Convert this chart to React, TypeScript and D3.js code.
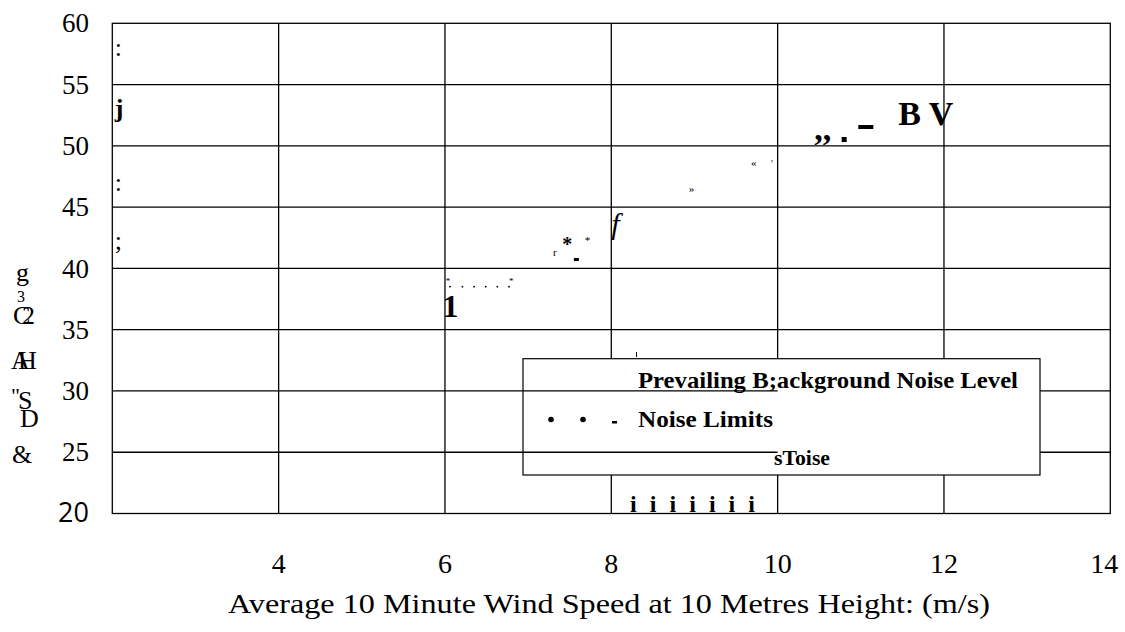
import React from "react";
import * as d3 from "d3";

const W = 1125;
const H = 632;

// axis definitions
const xDomain = [2, 14];
const yDomain = [20, 60];
const xTickValues = [4, 6, 8, 10, 12, 14];
const xGridValues = [4, 6, 8, 10, 12];
const yTickValues = [60, 55, 50, 45, 40, 35, 30, 25];
const yGridValues = [55, 50, 45, 40, 35, 30, 25];
const yBottomTick = 20;

const xTitle = "Average  10  Minute  Wind  Speed  at  10  Metres  Height:  (m/s)";

// scanned glyph fragments left on the plot (x in m/s, y in dB)
const glyphText = [":", "j", ":", ";", "1", "*", "*", "r", "*", "*", "f", "»", "«", "'", ",,", "B V"];
const glyphX = [2.03, 2.03, 2.03, 2.03, 5.97, 6.01, 6.77, 7.3, 7.41, 7.68, 8.0, 8.93, 9.68, 9.92, 10.44, 11.45];
const glyphY = [57.33, 52.35, 46.32, 41.58, 36.03, 38.73, 38.73, 41.01, 41.42, 41.99, 42.81, 46.23, 48.36, 48.28, 50.48, 51.7];

// dots of the noise-limit line
const dotX = [6.06, 6.21, 6.35, 6.49, 6.63, 6.77];
const dotY = [38.51, 38.51, 38.51, 38.51, 38.51, 38.51];
// small blocks of the dashed line
const blockX = [7.55, 10.77, 10.97];
const blockY = [40.85, 50.72, 51.7];

const legendLines = ["Prevailing B;ackground Noise Level", "Noise Limits", "sToise"];
const bottomMarks = "i i i i i i i";

// left-axis title fragments
const yTitleBits = ["g", "3", "C", "2", "A", "H", '"', "S", "D", "&"];

export default function App() {
  const left = 112.3;
  const right = 1110.3;
  const top = 23.3;
  const bottom = 513.5;
  const x = d3.scaleLinear().domain(xDomain).range([left, right]);
  const y = d3.scaleLinear().domain(yDomain).range([bottom, top]);

  const serif = "'Liberation Serif', 'Times New Roman', serif";
  const stroke = "#000";
  const sw = 1.3;

  // legend box layout
  const lg = { x: 523, y: 358.7, w: 517, h: 116.3 };

  // glyph style info (layout)
  const glyphStyle = [
    { fs: 26, fw: 400, it: false },
    { fs: 26, fw: 700, it: false },
    { fs: 26, fw: 400, it: false },
    { fs: 26, fw: 400, it: false },
    { fs: 32, fw: 700, it: false },
    { fs: 9, fw: 400, it: false },
    { fs: 9, fw: 400, it: false },
    { fs: 11, fw: 400, it: false },
    { fs: 20, fw: 700, it: false },
    { fs: 11, fw: 400, it: false },
    { fs: 30, fw: 400, it: true },
    { fs: 11, fw: 400, it: false },
    { fs: 11, fw: 400, it: false },
    { fs: 10, fw: 400, it: false },
    { fs: 34, fw: 700, it: false },
    { fs: 34, fw: 700, it: false },
  ];

  const yTitlePos = [
    { px: 16, py: 281, fs: 26 },
    { px: 17, py: 302, fs: 16 },
    { px: 13, py: 324, fs: 26 },
    { px: 22, py: 324, fs: 26 },
    { px: 11, py: 369, fs: 26 },
    { px: 18, py: 369, fs: 26 },
    { px: 11, py: 403, fs: 22 },
    { px: 18, py: 409, fs: 26 },
    { px: 20, py: 427, fs: 26 },
    { px: 12, py: 463, fs: 26 },
  ];

  const blockSize = [
    [5, 3],
    [5, 5],
    [15, 4],
  ];

  return (
    <svg
      width={W}
      height={H}
      style={{ position: "absolute", left: 0, top: 0, background: "#fff" }}
    >
      <rect x={0} y={0} width={W} height={H} fill="#fff" />
      {/* grid */}
      {xGridValues.map((v) => (
        <line key={"vx" + v} x1={x(v)} x2={x(v)} y1={top} y2={bottom} stroke={stroke} strokeWidth={sw} />
      ))}
      {yGridValues.map((v) => (
        <line key={"hy" + v} x1={left} x2={right} y1={y(v)} y2={y(v)} stroke={stroke} strokeWidth={sw} />
      ))}
      <rect x={left} y={top} width={right - left} height={bottom - top} fill="none" stroke={stroke} strokeWidth={sw} />

      {/* legend */}
      <rect x={lg.x} y={lg.y} width={lg.w} height={lg.h} fill="#fff" stroke={stroke} strokeWidth={1.2} />
      {yGridValues
        .filter((v) => y(v) > lg.y && y(v) < lg.y + lg.h)
        .map((v) => (
          <line key={"lgh" + v} x1={lg.x} x2={x(10)} y1={y(v)} y2={y(v)} stroke={stroke} strokeWidth={sw} />
        ))}
      <line x1={636.5} x2={636.5} y1={352} y2={357} stroke={stroke} strokeWidth={1} />
      <text x={638} y={388} fontFamily={serif} fontWeight={700} fontSize={23} textLength={380} lengthAdjust="spacingAndGlyphs">
        {legendLines[0]}
      </text>
      <circle cx={551} cy={419.5} r={2.8} fill={stroke} />
      <circle cx={583} cy={419.5} r={2.8} fill={stroke} />
      <rect x={612} y={421} width={5} height={2.5} fill={stroke} />
      <text x={638} y={427} fontFamily={serif} fontWeight={700} fontSize={23} textLength={135} lengthAdjust="spacingAndGlyphs">
        {legendLines[1]}
      </text>
      <text x={774} y={465} fontFamily={serif} fontWeight={700} fontSize={22} textLength={56} lengthAdjust="spacingAndGlyphs">
        {legendLines[2]}
      </text>

      {/* scattered glyphs */}
      {glyphText.map((t, i) => (
        <text
          key={"g" + i}
          x={x(glyphX[i])}
          y={y(glyphY[i])}
          fontFamily={serif}
          fontSize={glyphStyle[i].fs}
          fontWeight={glyphStyle[i].fw}
          fontStyle={glyphStyle[i].it ? "italic" : "normal"}
        >
          {t}
        </text>
      ))}
      {dotX.map((v, i) => (
        <circle key={"d" + i} cx={x(v)} cy={y(dotY[i])} r={0.9} fill={stroke} />
      ))}
      {blockX.map((v, i) => (
        <rect key={"b" + i} x={x(v)} y={y(blockY[i])} width={blockSize[i][0]} height={blockSize[i][1]} fill={stroke} />
      ))}
      <text x={630} y={512} fontFamily={serif} fontWeight={700} fontSize={24} textLength={125} lengthAdjust="spacing">
        {bottomMarks}
      </text>

      {/* y tick labels */}
      {yTickValues.map((v) => (
        <text key={"yt" + v} x={89} y={y(v)} dy="0.34em" textAnchor="end" fontFamily={serif} fontSize={27}>
          {v}
        </text>
      ))}
      <text x={89} y={y(yBottomTick) - 1} dy="0.36em" textAnchor="end" fontFamily="'Open Sans', sans-serif" fontSize={27}>
        {yBottomTick}
      </text>

      {/* x tick labels */}
      {xTickValues.map((v) => (
        <text key={"xt" + v} x={x(v) - (v === 14 ? 6 : 0)} y={573} textAnchor="middle" fontFamily={serif} fontSize={28}>
          {v}
        </text>
      ))}
      <text x={228} y={613} fontFamily={serif} fontSize={28} textLength={762} lengthAdjust="spacingAndGlyphs">
        {xTitle}
      </text>

      {/* y title fragments */}
      {yTitleBits.map((t, i) => (
        <text key={"yb" + i} x={yTitlePos[i].px} y={yTitlePos[i].py} fontFamily={serif} fontSize={yTitlePos[i].fs}>
          {t}
        </text>
      ))}
    </svg>
  );
}
